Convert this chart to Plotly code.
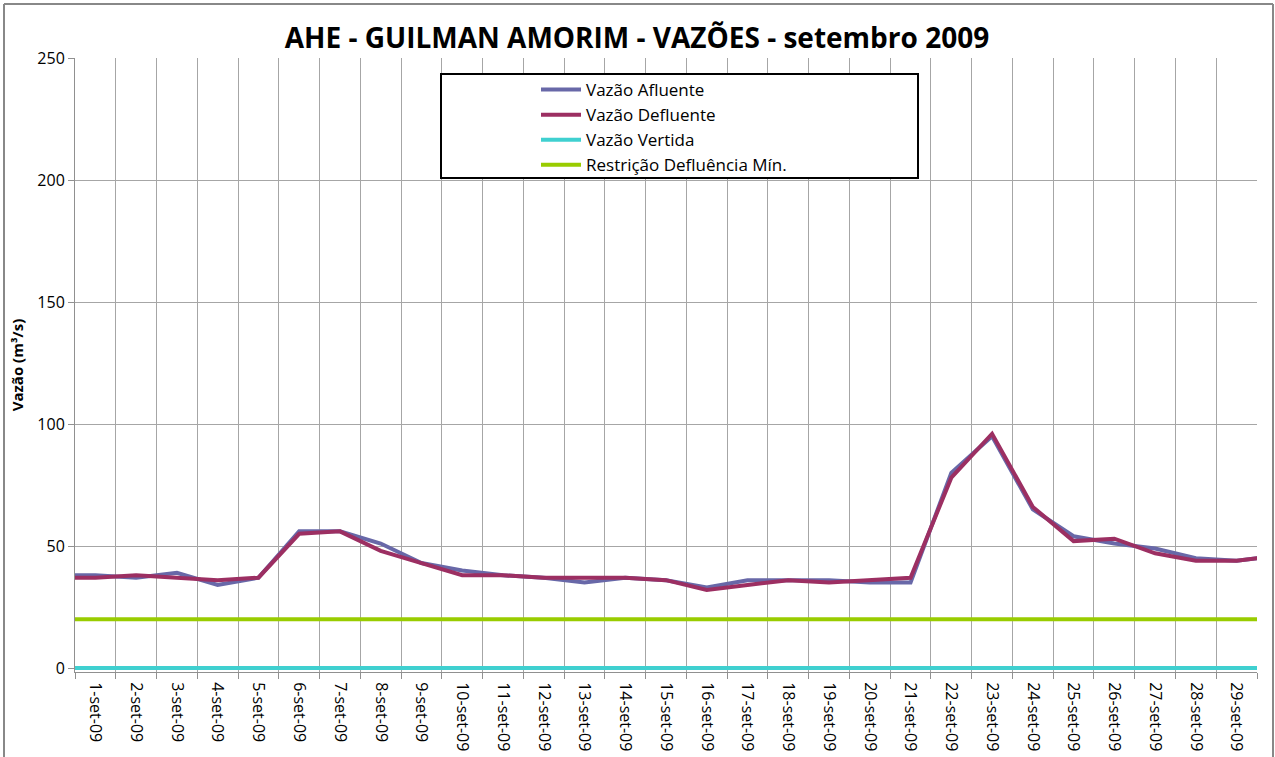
import plotly.graph_objects as go

# Days: 0 = 31-ago (partially visible), 1..30 = setembro
days = list(range(0, 31))
tick_days = list(range(1, 30))
tick_labels = [f"{d}-set-09" for d in tick_days]

afluente = [38, 38, 37, 39, 34, 37, 56, 56, 51, 43, 40, 38, 37, 35, 37, 36, 33, 36, 36, 36,
            35, 35, 80, 95, 65, 54, 51, 49, 45, 44, 46]
defluente = [37, 37, 38, 37, 36, 37, 55, 56, 48, 43, 38, 38, 37, 37, 37, 36, 32, 34, 36, 35,
             36, 37, 78, 96, 66, 52, 53, 47, 44, 44, 46]
vertida = [0] * 31
restricao = [20] * 31

FONT = "'Open Sans', sans-serif"

fig = go.Figure()
fig.add_trace(go.Scatter(x=days, y=afluente, name="Vazão Afluente", mode="lines",
                         line=dict(color="#6868A8", width=4)))
fig.add_trace(go.Scatter(x=days, y=defluente, name="Vazão Defluente", mode="lines",
                         line=dict(color="#9C2F62", width=4)))
fig.add_trace(go.Scatter(x=days, y=vertida, name="Vazão Vertida", mode="lines",
                         line=dict(color="#3FD0D0", width=4)))
fig.add_trace(go.Scatter(x=days, y=restricao, name="Restrição Defluência Mín.", mode="lines",
                         line=dict(color="#99CC00", width=4)))

W, H = 1275, 757
L, T, R = 75, 58, 18
B = 85
pw, ph = W - L - R, H - T - B
PX_PER_UNIT = 610 / 250
ymin = -(ph / PX_PER_UNIT - 250)

def px(xs):
    return (xs - L) / pw

def py(ys):
    return (T + ph - ys) / ph

# legend box
fig.add_shape(type="rect", xref="paper", yref="paper",
              x0=px(441), x1=px(918), y0=py(178), y1=py(74),
              line=dict(color="black", width=2), fillcolor="white", layer="above")
# chart border
border = dict(color="#888888", width=2)
fig.add_shape(type="line", xref="paper", yref="paper", x0=px(4), x1=px(4), y0=py(760), y1=py(4), line=border)
fig.add_shape(type="line", xref="paper", yref="paper", x0=px(4), x1=px(1273), y0=py(4), y1=py(4), line=border)
fig.add_shape(type="line", xref="paper", yref="paper", x0=px(1273), x1=px(1273), y0=py(760), y1=py(4), line=border)

fig.update_layout(
    width=W, height=H,
    margin=dict(l=L, r=R, t=T, b=B, autoexpand=False),
    paper_bgcolor="white", plot_bgcolor="white",
    font=dict(family=FONT, color="black"),
    title=dict(text="<b>AHE - GUILMAN AMORIM - VAZÕES - setembro 2009</b>",
               x=637 / W, xref="container", xanchor="center",
               y=1 - 38 / H, yref="container", yanchor="middle",
               font=dict(size=28, family=FONT)),
    showlegend=True,
    legend=dict(x=px(536), y=py(72), xanchor="left", yanchor="top",
                bgcolor="rgba(0,0,0,0)", borderwidth=0,
                font=dict(size=17, family=FONT), itemwidth=40, tracegroupgap=0),
    xaxis=dict(range=[0.5, 29.5], tickvals=tick_days, ticktext=tick_labels,
               tickangle=90, showgrid=False, ticks="", ticklabelstandoff=6,
               tickfont=dict(size=16, family=FONT), automargin=False,
               showline=True, linecolor="#909090", linewidth=1,
               minor=dict(tick0=0.5, dtick=1, showgrid=True, gridcolor="#A6A6A6", gridwidth=1,
                          ticks="outside", ticklen=6, tickcolor="#909090"),
               zeroline=False),
    yaxis=dict(range=[ymin, 250], tickvals=[0, 50, 100, 150, 200, 250],
               showgrid=True, gridcolor="#A6A6A6", gridwidth=1,
               ticks="outside", ticklen=6, tickcolor="#909090", automargin=False,
               showline=True, linecolor="#909090", linewidth=1,
               tickfont=dict(size=16, family=FONT), zeroline=False,
               title=dict(text="<b>Vazão (m³/s)</b>", font=dict(size=15, family=FONT), standoff=10)),
)

fig.write_html("out.html", config={"displayModeBar": False},
               post_script="document.body.style.margin='0';document.body.style.overflow='hidden';")
